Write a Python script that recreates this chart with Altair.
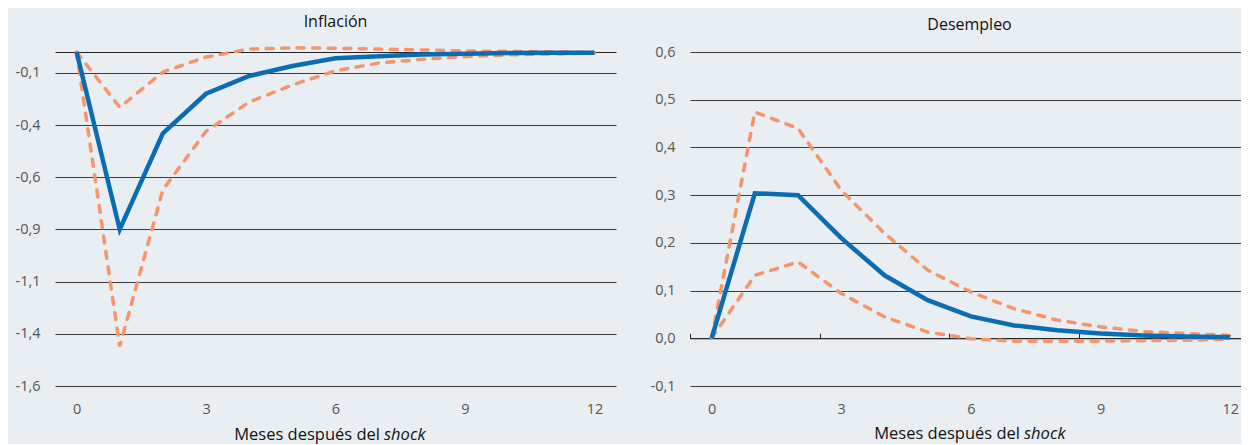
import altair as alt
import pandas as pd

# ---------------- data ----------------
meses = list(range(13))

inf_central = [0, -0.85, -0.39, -0.20, -0.115, -0.067, -0.03, -0.02, -0.012, -0.008, -0.005, -0.004, -0.003]
inf_sup = [0, -0.265, -0.096, -0.024, 0.014, 0.02, 0.018, 0.014, 0.01, 0.005, 0.003, 0.001, -0.002]
inf_inf = [0, -1.41, -0.66, -0.38, -0.24, -0.158, -0.09, -0.053, -0.035, -0.022, -0.014, -0.009, -0.005]

des_central = [0, 0.304, 0.30, 0.21, 0.132, 0.08, 0.046, 0.027, 0.017, 0.01, 0.006, 0.004, 0.002]
des_sup = [0, 0.474, 0.44, 0.31, 0.22, 0.143, 0.097, 0.062, 0.038, 0.024, 0.014, 0.01, 0.006]
des_inf = [0, 0.132, 0.16, 0.094, 0.045, 0.013, -0.001, -0.006, -0.006, -0.006, -0.005, -0.004, -0.002]

inf_ticks = [-1.6, -1.35, -1.1, -0.85, -0.6, -0.35, -0.1]
inf_labels = ["-1,6", "-1,4", "-1,1", "-0,9", "-0,6", "-0,4", "-0,1"]
des_ticks = [-0.1, 0.0, 0.1, 0.2, 0.3, 0.4, 0.5, 0.6]
des_labels = ["-0,1", "0,0", "0,1", "0,2", "0,3", "0,4", "0,5", "0,6"]
x_ticks = [0, 3, 6, 9, 12]
x_separators = [-0.5, 2.5, 5.5, 8.5, 11.5]

titulos = ["Inflación", "Desempleo"]
eje_x = ["Meses después del", "shock"]

# ---------------- style ----------------
FONT = "Open Sans"
BG = "#e9eef3"
BLUE = "#0a6db4"
ORANGE = "#f4956b"
GRID = "#3c3c3c"
H = 334


def label_expr(vals, labs):
    return " : ".join(f"datum.value == {v} ? '{l}'" for v, l in zip(vals, labs)) + " : ''"


def panel(title, central, sup, inf, ydom, yticks, ylabels, zero_off, zero_ticks, xt_y, split_x,
          width, xmax, title_dx):
    df = pd.DataFrame({"mes": meses, "Central": central, "Superior": sup, "Inferior": inf})
    xs = alt.Scale(domain=[-0.5, xmax], nice=False, zero=False)
    ys = alt.Scale(domain=ydom, nice=False, zero=False)
    yaxis = alt.Axis(
        values=yticks, labelExpr=label_expr(yticks, ylabels), grid=True,
        gridColor=GRID, gridWidth=1, gridOpacity=1, domain=False, ticks=False,
        labelPadding=15, title=None)

    bands = alt.Chart(df).transform_fold(
        ["Superior", "Inferior"], as_=["serie", "valor"]
    ).mark_line(
        color=ORANGE, strokeWidth=3.5, strokeDash=[7, 8.5], strokeCap="round"
    ).encode(
        x=alt.X("mes:Q", scale=xs, axis=alt.Axis(
            orient="bottom", values=x_ticks, grid=False, domain=False, ticks=False,
            labelPadding=16, title=None, labelFlush=False)),
        y=alt.Y("valor:Q", scale=ys, axis=yaxis),
        detail="serie:N",
    )

    center = alt.Chart(df).mark_line(color=BLUE, strokeWidth=4.5).encode(
        x=alt.X("mes:Q", scale=xs, axis=alt.Axis(
            orient="top", offset=zero_off, values=x_separators, labels=False,
            ticks=zero_ticks, tickSize=5, tickColor="#222", tickWidth=1,
            domain=True, domainColor="#222", domainWidth=1, grid=False, title=None)),
        y=alt.Y("Central:Q", scale=ys, axis=yaxis),
    )

    t1 = alt.Chart(pd.DataFrame({"t": [eje_x[0]]})).mark_text(
        align="right", baseline="middle", fontSize=16.5, font=FONT, color="#111"
    ).encode(text="t:N", x=alt.value(split_x - 2), y=alt.value(xt_y))
    t2 = alt.Chart(pd.DataFrame({"t": [eje_x[1]]})).mark_text(
        align="left", baseline="middle", fontSize=16.5, font=FONT, color="#111", fontStyle="italic"
    ).encode(text="t:N", x=alt.value(split_x + 2), y=alt.value(xt_y))

    return alt.layer(bands, center, t1, t2).resolve_axis(x="independent").properties(
        width=width, height=H,
        title=alt.TitleParams(title, fontSize=16, font=FONT, fontWeight="normal",
                              color="#111", frame="group", anchor="middle", offset=11,
                              dx=title_dx),
    )


left = panel(titulos[0], inf_central, inf_sup, inf_inf, [-1.6, 0], inf_ticks, inf_labels,
             0, False, 383, 327, 561, 12.5, 0)
right = panel(titulos[1], des_central, des_sup, des_inf, [-0.1, 0.6], des_ticks, des_labels,
              -H * 0.6 / 0.7, True, 382, 332, 551, 12.25, 4)

chart = alt.hconcat(left, right, spacing=34).configure(
    background=BG, padding={"left": 7, "top": 5, "right": 0, "bottom": 0}
).configure_view(strokeWidth=0).configure_axis(
    labelFont=FONT, labelFontSize=14.5, labelColor="#555"
)

chart.save("out.html", embed_options={"renderer": "svg", "actions": False})
